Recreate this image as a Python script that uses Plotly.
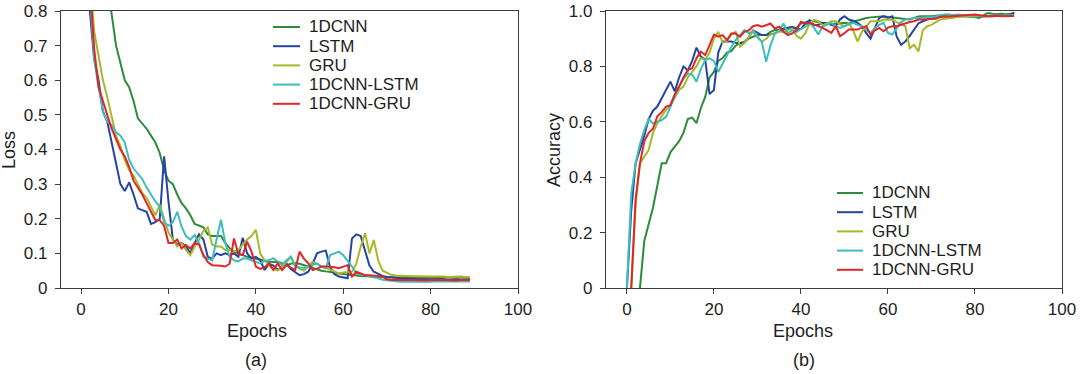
import plotly.graph_objects as go

# ---------------- data ----------------
epochs = list(range(90))
series_names = ["1DCNN", "LSTM", "GRU", "1DCNN-LSTM", "1DCNN-GRU"]
series_colors = ["#2f8a3c", "#2443a3", "#a9b827", "#3fbcbc", "#e02626"]

loss_1dcnn = [2.0, 1.7, 1.4, 1.2, 1.05, 0.95, 0.87, 0.79, 0.70, 0.65,
              0.60, 0.58, 0.54, 0.49, 0.475, 0.46, 0.44, 0.42, 0.39, 0.34,
              0.31, 0.30, 0.27, 0.245, 0.23, 0.21, 0.185, 0.18, 0.175, 0.155,
              0.15, 0.15, 0.15, 0.13, 0.115, 0.105, 0.10, 0.095, 0.09, 0.088,
              0.085, 0.08, 0.078, 0.076, 0.075, 0.076, 0.072, 0.066, 0.07, 0.072,
              0.07, 0.066, 0.062, 0.058, 0.052, 0.05, 0.048, 0.047, 0.045, 0.042,
              0.04, 0.038, 0.037, 0.036, 0.035, 0.034, 0.033, 0.033, 0.032, 0.032,
              0.031, 0.031, 0.030, 0.030, 0.031, 0.030, 0.029, 0.030, 0.029, 0.030,
              0.029, 0.030, 0.029, 0.030, 0.030, 0.029, 0.030, 0.029, 0.030, 0.030]
loss_lstm = [1.5, 1.1, 0.80, 0.66, 0.60, 0.51, 0.48, 0.42, 0.35, 0.30,
             0.28, 0.305, 0.27, 0.23, 0.225, 0.22, 0.185, 0.19, 0.20, 0.38,
             0.25, 0.14, 0.125, 0.13, 0.12, 0.10, 0.13, 0.155, 0.14, 0.09,
             0.085, 0.10, 0.095, 0.10, 0.095, 0.10, 0.09, 0.145, 0.10, 0.085,
             0.09, 0.08, 0.052, 0.07, 0.065, 0.052, 0.06, 0.071, 0.055, 0.045,
             0.037, 0.04, 0.047, 0.07, 0.10, 0.105, 0.108, 0.06, 0.04, 0.033,
             0.03, 0.028, 0.143, 0.155, 0.15, 0.11, 0.065, 0.047, 0.04, 0.035,
             0.032, 0.030, 0.030, 0.028, 0.027, 0.028, 0.027, 0.026, 0.025, 0.026,
             0.025, 0.025, 0.026, 0.025, 0.024, 0.025, 0.025, 0.024, 0.025, 0.025]
loss_gru = [1.6, 1.2, 0.9, 0.74, 0.67, 0.60, 0.55, 0.49, 0.44, 0.41,
            0.37, 0.34, 0.325, 0.30, 0.275, 0.26, 0.235, 0.21, 0.24, 0.20,
            0.16, 0.14, 0.12, 0.13, 0.11, 0.095, 0.12, 0.14, 0.165, 0.175,
            0.125, 0.12, 0.12, 0.11, 0.11, 0.105, 0.11, 0.125, 0.14, 0.15,
            0.168, 0.10, 0.08, 0.065, 0.055, 0.05, 0.06, 0.075, 0.09, 0.067,
            0.055, 0.05, 0.062, 0.076, 0.07, 0.062, 0.058, 0.052, 0.048, 0.042,
            0.045, 0.047, 0.047, 0.07, 0.12, 0.158, 0.10, 0.139, 0.08, 0.05,
            0.045, 0.038, 0.036, 0.035, 0.034, 0.035, 0.034, 0.034, 0.033, 0.034,
            0.033, 0.033, 0.034, 0.033, 0.032, 0.033, 0.032, 0.033, 0.032, 0.032]
loss_cnn_lstm = [1.5, 1.1, 0.85, 0.66, 0.58, 0.51, 0.48, 0.47, 0.45, 0.44,
                 0.42, 0.37, 0.345, 0.33, 0.315, 0.29, 0.27, 0.25, 0.235, 0.19,
                 0.18, 0.19, 0.22, 0.177, 0.15, 0.14, 0.153, 0.13, 0.09, 0.085,
                 0.08, 0.14, 0.197, 0.13, 0.09, 0.08, 0.077, 0.085, 0.085, 0.08,
                 0.075, 0.071, 0.078, 0.08, 0.086, 0.075, 0.066, 0.08, 0.09, 0.062,
                 0.06, 0.057, 0.062, 0.068, 0.071, 0.062, 0.057, 0.095, 0.10, 0.105,
                 0.095, 0.08, 0.062, 0.042, 0.038, 0.037, 0.034, 0.033, 0.028, 0.024,
                 0.022, 0.020, 0.019, 0.018, 0.019, 0.018, 0.018, 0.019, 0.018, 0.019,
                 0.018, 0.019, 0.019, 0.018, 0.019, 0.018, 0.019, 0.019, 0.018, 0.019]
loss_cnn_gru = [1.6, 1.15, 0.88, 0.69, 0.58, 0.54, 0.50, 0.46, 0.43, 0.40,
                0.38, 0.35, 0.31, 0.29, 0.27, 0.245, 0.22, 0.196, 0.196, 0.18,
                0.13, 0.13, 0.14, 0.114, 0.124, 0.114, 0.13, 0.125, 0.095, 0.075,
                0.066, 0.066, 0.064, 0.062, 0.07, 0.143, 0.098, 0.095, 0.134, 0.105,
                0.062, 0.055, 0.06, 0.071, 0.052, 0.071, 0.052, 0.066, 0.06, 0.052,
                0.105, 0.085, 0.071, 0.052, 0.056, 0.062, 0.062, 0.062, 0.06, 0.057,
                0.062, 0.066, 0.033, 0.047, 0.042, 0.037, 0.037, 0.036, 0.034, 0.033,
                0.025, 0.023, 0.024, 0.023, 0.022, 0.023, 0.023, 0.022, 0.023, 0.022,
                0.023, 0.022, 0.023, 0.023, 0.022, 0.023, 0.022, 0.023, 0.022, 0.023]

acc_1dcnn = [None, None, None, 0.0, 0.17, 0.23, 0.29, 0.37, 0.45, 0.45,
             0.49, 0.51, 0.53, 0.56, 0.61, 0.615, 0.595, 0.65, 0.69, 0.76,
             0.78, 0.82, 0.83, 0.85, 0.855, 0.875, 0.885, 0.889, 0.90, 0.907,
             0.913, 0.913, 0.913, 0.925, 0.931, 0.931, 0.935, 0.937, 0.937, 0.94,
             0.955, 0.96, 0.963, 0.963, 0.96, 0.955, 0.952, 0.951, 0.955, 0.957,
             0.957, 0.957, 0.962, 0.967, 0.972, 0.975, 0.977, 0.978, 0.98, 0.981,
             0.978, 0.976, 0.975, 0.972, 0.97, 0.969, 0.975, 0.98, 0.981, 0.98,
             0.981, 0.983, 0.985, 0.986, 0.987, 0.985, 0.983, 0.981, 0.981, 0.98,
             0.978, 0.975, 0.985, 0.993, 0.99, 0.988, 0.99, 0.988, 0.99, 0.99]
acc_lstm = [0.0, 0.28, 0.45, 0.50, 0.55, 0.61, 0.64, 0.655, 0.685, 0.72,
            0.745, 0.71, 0.76, 0.80, 0.785, 0.82, 0.868, 0.835, 0.825, 0.70,
            0.715, 0.85, 0.89, 0.89, 0.89, 0.885, 0.883, 0.885, 0.905, 0.93,
            0.92, 0.913, 0.913, 0.915, 0.919, 0.928, 0.937, 0.94, 0.943, 0.935,
            0.935, 0.955, 0.967, 0.949, 0.95, 0.957, 0.957, 0.95, 0.945, 0.97,
            0.981, 0.969, 0.965, 0.957, 0.945, 0.92, 0.90, 0.939, 0.975, 0.981,
            0.975, 0.981, 0.908, 0.878, 0.89, 0.91, 0.932, 0.955, 0.963, 0.97,
            0.975, 0.978, 0.98, 0.981, 0.98, 0.982, 0.98, 0.981, 0.982, 0.98,
            0.981, 0.978, 0.98, 0.982, 0.981, 0.983, 0.984, 0.983, 0.985, 0.995]
acc_gru = [None, 0.0, 0.30, 0.45, 0.474, 0.498, 0.56, 0.595, 0.62, 0.643,
           0.66, 0.69, 0.715, 0.727, 0.76, 0.78, 0.80, 0.83, 0.823, 0.85,
           0.90, 0.925, 0.885, 0.89, 0.915, 0.925, 0.871, 0.885, 0.905, 0.93,
           0.91, 0.889, 0.90, 0.915, 0.92, 0.925, 0.925, 0.93, 0.937, 0.91,
           0.90, 0.92, 0.955, 0.968, 0.963, 0.948, 0.955, 0.963, 0.963, 0.952,
           0.945, 0.957, 0.93, 0.89, 0.925, 0.945, 0.963, 0.963, 0.963, 0.968,
           0.969, 0.969, 0.96, 0.951, 0.945, 0.866, 0.878, 0.854, 0.93, 0.945,
           0.95, 0.96, 0.969, 0.972, 0.975, 0.976, 0.978, 0.981, 0.98, 0.981,
           0.98, 0.981, 0.98, 0.981, 0.982, 0.981, 0.983, 0.982, 0.984, 0.985]
acc_cnn_lstm = [0.0, 0.34, 0.45, 0.52, 0.57, 0.61, 0.594, 0.60, 0.606, 0.618,
                0.655, 0.69, 0.727, 0.755, 0.775, 0.77, 0.745, 0.79, 0.823, 0.829,
                0.82, 0.78, 0.811, 0.84, 0.87, 0.895, 0.913, 0.931, 0.92, 0.925,
                0.905, 0.89, 0.817, 0.875, 0.919, 0.93, 0.955, 0.919, 0.931, 0.925,
                0.935, 0.943, 0.957, 0.94, 0.915, 0.945, 0.95, 0.957, 0.945, 0.939,
                0.945, 0.95, 0.957, 0.95, 0.945, 0.93, 0.921, 0.939, 0.95, 0.957,
                0.921, 0.915, 0.94, 0.96, 0.969, 0.972, 0.975, 0.975, 0.975, 0.977,
                0.978, 0.98, 0.985, 0.987, 0.986, 0.985, 0.987, 0.985, 0.984, 0.985,
                0.983, 0.982, 0.981, 0.983, 0.985, 0.984, 0.983, 0.985, 0.984, 0.985]
acc_cnn_gru = [None, 0.0, 0.32, 0.45, 0.53, 0.56, 0.575, 0.62, 0.635, 0.655,
               0.66, 0.70, 0.727, 0.76, 0.787, 0.793, 0.83, 0.853, 0.841, 0.877,
               0.915, 0.907, 0.913, 0.895, 0.919, 0.919, 0.907, 0.925, 0.93, 0.945,
               0.949, 0.943, 0.949, 0.955, 0.937, 0.943, 0.925, 0.913, 0.919, 0.931,
               0.961, 0.955, 0.957, 0.951, 0.945, 0.939, 0.93, 0.921, 0.945, 0.909,
               0.92, 0.933, 0.933, 0.933, 0.94, 0.945, 0.915, 0.93, 0.939, 0.927,
               0.94, 0.945, 0.945, 0.95, 0.957, 0.96, 0.963, 0.969, 0.969, 0.97,
               0.969, 0.972, 0.978, 0.981, 0.98, 0.981, 0.981, 0.982, 0.984, 0.985,
               0.987, 0.985, 0.983, 0.981, 0.982, 0.983, 0.981, 0.982, 0.983, 0.982]

loss_tickvals = [0, 0.1, 0.2, 0.3, 0.4, 0.5, 0.6, 0.7, 0.8]
loss_ticktext = ["0", "0.1", "0.2", "0.3", "0.4", "0.5", "0.6", "0.7", "0.8"]
acc_tickvals = [0, 0.2, 0.4, 0.6, 0.8, 1.0]
acc_ticktext = ["0", "0.2", "0.4", "0.6", "0.8", "1.0"]
epoch_tickvals = [0, 20, 40, 60, 80, 100]

loss_series = [loss_1dcnn, loss_lstm, loss_gru, loss_cnn_lstm, loss_cnn_gru]
acc_series = [acc_1dcnn, acc_lstm, acc_gru, acc_cnn_lstm, acc_cnn_gru]
for s in loss_series + acc_series:
    assert len(s) == len(epochs), len(s)

# ---------------- layout helpers ----------------
W, H = 1080, 374
FONT = "Liberation Sans, Arial, Helvetica, sans-serif"
AX = "#3c3c3c"
TXT = "#1e1e1e"


def px(x):
    return x / W


def py(y):
    return 1 - y / H


fig = go.Figure()
for name, color, ys in zip(series_names, series_colors, loss_series):
    fig.add_trace(go.Scatter(x=epochs, y=ys, mode="lines", name=name,
                             line=dict(color=color, width=2),
                             xaxis="x", yaxis="y", showlegend=False))
for name, color, ys in zip(series_names, series_colors, acc_series):
    fig.add_trace(go.Scatter(x=epochs, y=ys, mode="lines", name=name,
                             line=dict(color=color, width=2),
                             xaxis="x2", yaxis="y2", showlegend=False))

axis_common = dict(showline=True, linecolor=AX, linewidth=1.4, mirror=True,
                   ticks="outside", ticklen=5, tickwidth=1.3, tickcolor=AX,
                   showgrid=False, zeroline=False, automargin=False,
                   tickfont=dict(family=FONT, size=17, color=TXT))

fig.update_layout(
    width=W, height=H,
    margin=dict(l=0, r=0, t=0, b=0, autoexpand=False),
    paper_bgcolor="white", plot_bgcolor="white",
    showlegend=False,
    xaxis=dict(domain=[px(61), px(518)], range=[-4.6, 100], anchor="y",
               tickvals=epoch_tickvals, **axis_common),
    yaxis=dict(domain=[py(288), py(11)], range=[0, 0.8], anchor="x",
               tickvals=loss_tickvals, ticktext=loss_ticktext,
               ticklabelstandoff=4, **axis_common),
    xaxis2=dict(domain=[px(606), px(1062)], range=[-4.8, 100], anchor="y2",
                tickvals=epoch_tickvals, **axis_common),
    yaxis2=dict(domain=[py(288), py(11)], range=[0, 1.0], anchor="x2",
                tickvals=acc_tickvals, ticktext=acc_ticktext,
                ticklabelstandoff=4, **axis_common),
)

annotations = []
shapes = []


def text(x, y, s, size=18, angle=0, xanchor="center"):
    annotations.append(dict(x=px(x), y=py(y), xref="paper", yref="paper",
                            text=s, showarrow=False, textangle=angle,
                            xanchor=xanchor, yanchor="middle",
                            font=dict(family=FONT, size=size, color=TXT)))


text(9, 150, "Loss", angle=-90)
text(257, 331, "Epochs")
text(256, 360, "(a)")
text(554, 150, "Accuracy", angle=-90)
text(803, 331, "Epochs")
text(804, 360, "(b)")

# legends (line sample + label), one per panel
legend_specs = [(273, 300, 307, 27, 19.2), (837, 863, 870, 193, 19.2)]
for x0, x1, xt, ytop, step in legend_specs:
    for i, (name, color) in enumerate(zip(series_names, series_colors)):
        yy = ytop + i * step
        shapes.append(dict(type="line", xref="paper", yref="paper",
                           x0=px(x0), x1=px(x1), y0=py(yy), y1=py(yy),
                           line=dict(color=color, width=2)))
        text(xt, yy, name, size=17, xanchor="left")

fig.update_layout(annotations=annotations, shapes=shapes)
fig.write_html("out.html",
               config={"displayModeBar": False},
               post_script="document.body.style.margin='0';"
                           "document.body.style.overflow='hidden';")
